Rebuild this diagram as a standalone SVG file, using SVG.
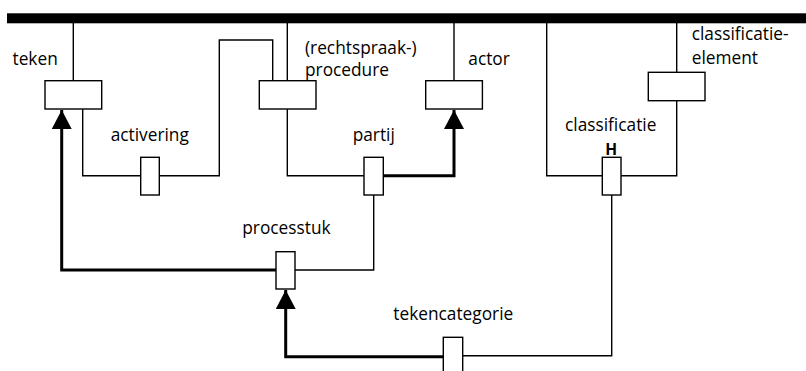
<svg xmlns="http://www.w3.org/2000/svg" width="806" height="371" viewBox="0 0 806 371">
<style>
.box{fill:#fff;stroke:#000;stroke-width:1.4}
.ln{fill:none;stroke:#000;stroke-width:1.4}
.thick{fill:none;stroke:#000;stroke-width:3}
text{font-family:"Open Sans","Liberation Sans",sans-serif;font-size:17.3px;fill:#000}
.h{font-weight:bold;font-size:15.5px}
</style>
<defs>
<marker id="arr" markerUnits="userSpaceOnUse" markerWidth="20" markerHeight="20" viewBox="0 0 20 20" refX="19" refY="10" orient="auto">
<path d="M0,0 L19,10 L0,20 Z" fill="#000"/>
</marker>
</defs>
<rect x="7" y="13.3" width="799" height="10" fill="#000"/>
<g id="connectors">
<path class="ln" d="M73.3,23 V80.7"/>
<path class="ln" d="M82.7,109 V175.7 H140.7"/>
<path class="ln" d="M159.3,175.7 H219.3 V40 H272.7 V80.7"/>
<path class="ln" d="M287.3,23 V80.7"/>
<path class="ln" d="M287.3,109 V175.7 H364"/>
<path class="thick" d="M383.3,175.7 H454 V110" marker-end="url(#arr)"/>
<path class="ln" d="M454,23 V80.7"/>
<path class="ln" d="M373.7,195 V270 H295"/>
<path class="thick" d="M276,270 H61.7 V110" marker-end="url(#arr)"/>
<path class="ln" d="M546.7,23 V175.7 H602.3"/>
<path class="ln" d="M621,175.7 H676.7 V100.7"/>
<path class="ln" d="M676.7,23 V72.3"/>
<path class="ln" d="M611.7,195 V355.7 H462.7"/>
<path class="thick" d="M443.3,356.7 H285.7 V290" marker-end="url(#arr)"/>
</g>
<g id="teken">
<rect class="box" x="45" y="80.7" width="56.7" height="28.3"/>
<text x="12.5" y="64.5">teken</text>
</g>
<g id="procedure">
<rect class="box" x="259.3" y="80.7" width="56.7" height="28.3"/>
<text x="305" y="54">(rechtspraak-)</text>
<text x="305" y="75.5">procedure</text>
</g>
<g id="actor">
<rect class="box" x="425.7" y="80.7" width="56.7" height="28.3"/>
<text x="468.3" y="64.5">actor</text>
</g>
<g id="classificatie-element">
<rect class="box" x="648.3" y="72.3" width="56.7" height="28.4"/>
<text x="691.7" y="39.5">classificatie-</text>
<text x="691.7" y="63.5">element</text>
</g>
<g id="activering">
<rect class="box" x="140.7" y="157.3" width="18.6" height="37.7"/>
<text x="110.7" y="140.5">activering</text>
</g>
<g id="partij">
<rect class="box" x="364" y="157.3" width="19.3" height="37.7"/>
<text x="352.7" y="140.5">partij</text>
</g>
<g id="classificatie">
<rect class="box" x="602.3" y="157.3" width="18.7" height="37.7"/>
<text x="565" y="131">classificatie</text>
<text class="h" x="611.2" y="155.3" text-anchor="middle">H</text>
</g>
<g id="processtuk">
<rect class="box" x="276" y="251.7" width="19" height="37.3"/>
<text x="242.3" y="234">processtuk</text>
</g>
<g id="tekencategorie">
<rect class="box" x="443.3" y="337.3" width="19.4" height="37.7"/>
<text x="393.3" y="320">tekencategorie</text>
</g>
</svg>
